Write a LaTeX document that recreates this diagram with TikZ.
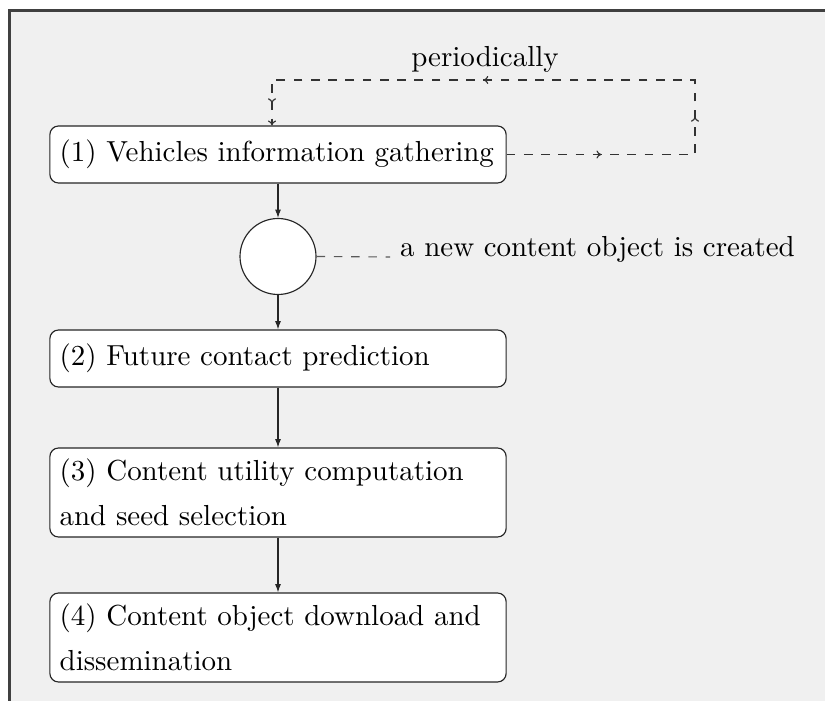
\documentclass[tikz,border=0pt]{standalone}
\usetikzlibrary{arrows.meta,decorations.markings}
\definecolor{bgc}{RGB}{240,240,240}
\definecolor{frc}{RGB}{64,64,64}
\begin{document}
\begin{tikzpicture}[x=0.34783pt,y=-0.34783pt,
  stepbox/.style={draw=black!85, fill=white, rounded corners=3pt, text width=151.9pt,
    inner xsep=3.4pt, inner ysep=0pt, align=left, font=\fontsize{10.08}{15.7}\selectfont},
  onebox/.style={stepbox, minimum height=19.83pt},
  twobox/.style={stepbox, minimum height=30.96pt},
  flow/.style={draw=black!85, -{Latex[length=2.9pt,width=2.1pt]}},
  junction/.style={circle, draw=black!85, fill=white, minimum size=26.43pt, inner sep=0pt},
  chev/.tip={To[length=1.7pt,width=2.8pt]},
  loopline/.style={draw=black!80, dashed, -chev,
    postaction={decorate},
    decoration={markings,
      mark=at position 32.9pt with {\arrow{chev}},
      mark=at position 78.6pt with {\arrow{chev}},
      mark=at position 165pt with {\arrow{chev}},
      mark=at position 246.6pt with {\arrow{chev}}}},
  noteline/.style={draw=black!65, dashed}
]
\useasboundingbox (0,0) rectangle (825,701);
\fill[bgc] (9.5,10.5) rectangle (825,701);
\draw[frc, line width=1.04pt] (9.5,701) -- (9.5,10.5) -- (825,10.5);

\node[onebox] (b1) at (278,154.5) {(1) Vehicles information gathering};
\node[junction] (circ) at (278,256.5) {};
\node[onebox] (b2) at (278,358.5) {(2) Future contact prediction};
\node[twobox] (b3) at (278,492.5) {(3) Content utility computation and seed selection};
\node[twobox] (b4) at (278,637.5) {(4) Content object download and dissemination};

\node[anchor=base west, inner sep=3.33pt, font=\fontsize{10.08}{12}\selectfont] (lbl) at (390,257) {a new content object is created};
\node[anchor=base, font=\fontsize{10.08}{12}\selectfont] (per) at (485,66.5) {periodically};

\coordinate (rc) at (695,80);
\coordinate (lc) at (272,80);

\draw[flow] (b1) -- (circ);
\draw[flow] (circ) -- (b2);
\draw[flow] (b2) -- (b3);
\draw[flow] (b3) -- (b4);
\draw[noteline] (circ.east) -- (lbl.base west);
\draw[loopline] (b1.east) -- (b1.east -| rc) -- (rc) -- (lc) -- (lc |- b1.north);
\end{tikzpicture}
\end{document}
